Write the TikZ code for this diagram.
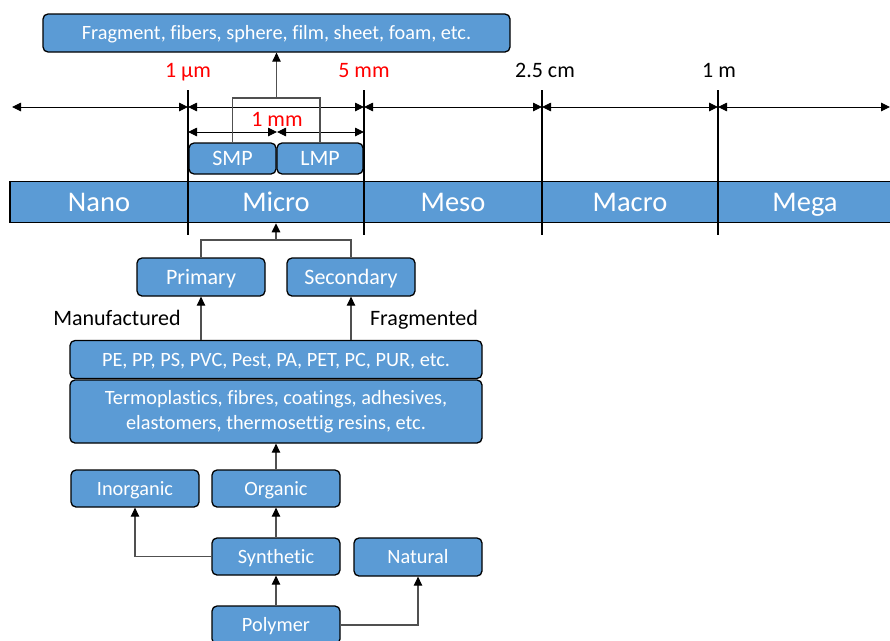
\documentclass[tikz,border=0pt]{standalone}
\usepackage{fontspec}
\setmainfont{Carlito}[Ligatures=NoCommon]
\usepackage{xcolor}
\usetikzlibrary{positioning,calc,arrows.meta}
\definecolor{boxblue}{HTML}{5B9BD5}
\definecolor{linegray}{HTML}{505050}

\begin{document}
\begin{tikzpicture}[x=1pt, y=-1pt,
                box/.style={draw=black, line width=1.3pt, rounded corners=5pt, fill=boxblue, text=white,
                    font=\fontsize{20.3}{24.5}\selectfont, inner sep=0pt, align=center,
                    text height=13.1pt, text depth=0pt},
                large_text/.style={font=\fontsize{22}{26}\selectfont, text height=14.2pt},
                band/.style={draw=black, line width=1.5pt, fill=boxblue, text=white,
                    font=\fontsize{28.5}{32}\selectfont, minimum height=41pt, inner sep=0pt,
                    text height=18.4pt, text depth=0pt},
                conn/.style={draw=linegray, line width=1.1pt},
                arr/.style={conn, -{Triangle[length=9pt, width=8.5pt, color=black]}},
                dim/.style={draw, line width=0.9pt, {Triangle[length=9pt, width=8.5pt]}-{Triangle[length=9pt, width=8.5pt]}},
                tick/.style={draw, line width=1.5pt},
                size_text/.style={font=\fontsize{22}{26}\selectfont, inner sep=0pt, text height=14.2pt, text depth=0pt}
            ]
                \useasboundingbox (0,0) rectangle (890,640);

                % --- SHAPES ---
                \node[box, minimum width=467pt, minimum height=38pt] (frag) at (276.5,33) {Fragment, fibers, sphere, film, sheet, foam, etc.};

                % --- SIZE LIMITS ---
                \node[size_text, text=red] (um) at (188,70) {1 µm};
                \node[size_text, text=red] (fivemm) at (364,70) {5 mm};
                \node[size_text] (cm) at (545,70) {2.5 cm};
                \node[size_text] (m) at (719,70) {1 m};

                \coordinate (a0) at (12,107);
                \coordinate (a1) at (188,107);
                \coordinate (a2) at (364,107);
                \coordinate (a3) at (542,107);
                \coordinate (a4) at (718,107);
                \coordinate (a5) at (890,107);
                \draw[dim] (a0) -- (a1);
                \draw[dim] (a1) -- (a2);
                \draw[dim] (a2) -- (a3);
                \draw[dim] (a3) -- (a4);
                \draw[dim] (a4) -- (a5);

                % --- SMP / LMP ---
                \node[box, large_text, minimum width=87pt, minimum height=31pt] (smp) at (232.5,158.5) {SMP};
                \node[box, large_text, minimum width=86pt, minimum height=31pt] (lmp) at (320,158.5) {LMP};
                \node[size_text, text=red] (onemm) at (277,119) {1 mm};
                \coordinate (b0) at (188,132);
                \coordinate (b1) at (277,132);
                \coordinate (b2) at (364,132);
                \draw[dim] (b0) -- (b1);
                \draw[dim] (b1) -- (b2);
                \coordinate (brk) at (276.5,98);
                \draw[conn] (smp.north) |- (brk) -| (lmp.north);
                \draw[arr] (brk) -- (frag.south);

                % --- SCALE BAR ---
                \node[band, minimum width=178pt] (nano) at (99,202) {Nano};
                \node[band, minimum width=176pt] (micro) at (276,202) {Micro};
                \node[band, minimum width=178pt] (meso) at (453,202) {Meso};
                \node[band, minimum width=176pt] (macro) at (630,202) {Macro};
                \node[band, minimum width=174pt] (mega) at (805,202) {Mega};

                \draw[tick] (188,90) -- (188,235);
                \draw[tick] (364,90) -- (364,235);
                \draw[tick] (542,90) -- (542,235);
                \draw[tick] (718,90) -- (718,235);

                % --- ORIGIN ---
                \node[box, large_text, minimum width=128pt, minimum height=38pt] (prim) at (201,277) {Primary};
                \node[box, large_text, minimum width=128pt, minimum height=38pt] (sec) at (351,277) {Secondary};
                \coordinate (brk2) at (276,240);
                \draw[conn] (prim.north) |- (brk2) -| (sec.north);
                \draw[arr] (brk2) -- (micro.south);

                \node[size_text] (manu) at (117,318) {Manufactured};
                \node[size_text] (fragm) at (424,318) {Fragmented};

                % --- POLYMERS ---
                \node[box, minimum width=412pt, minimum height=38pt] (pe) at (276,359.5) {PE, PP, PS, PVC, Pest, PA, PET, PC, PUR, etc.};
                \node[box, minimum width=412pt, minimum height=63pt, text height=, text depth=] (termo) at (276,411.5) {Termoplastics, fibres, coatings, adhesives,\\ elastomers, thermosettig resins, etc.};
                \draw[arr] (pe.north -| prim) -- (prim.south);
                \draw[arr] (pe.north -| sec) -- (sec.south);

                \node[box, minimum width=128pt, minimum height=37pt] (inorg) at (135,488.5) {Inorganic};
                \node[box, minimum width=128pt, minimum height=37pt] (org) at (276,488.5) {Organic};
                \node[box, minimum width=128pt, minimum height=37pt] (synth) at (276,556.5) {Synthetic};
                \node[box, minimum width=128pt, minimum height=38pt] (nat) at (418,557) {Natural};
                \node[box, minimum width=128pt, minimum height=38pt] (poly) at (276,625) {Polymer};

                \draw[arr] (org.north) -- (termo.south);
                \draw[arr] (synth.north) -- (org.south);
                \draw[arr] (synth.west) -| (inorg.south);
                \draw[arr] (poly.north) -- (synth.south);
                \draw[arr] (poly.east) -| (nat.south);

            \end{tikzpicture}
\end{document}
